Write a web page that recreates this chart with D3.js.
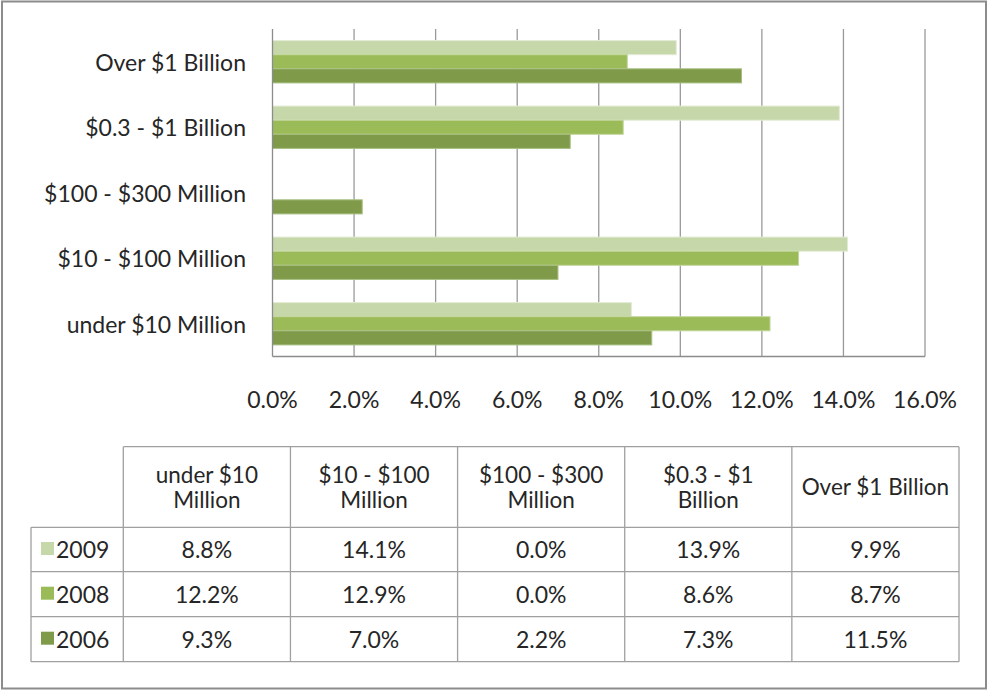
<!DOCTYPE html>
<html>
<head>
<meta charset="utf-8">
<script src="https://cdn.jsdelivr.net/npm/d3@7"></script>
<style>
  body { margin: 0; background: #fff; }
  text { font-family: Lato, "Open Sans", sans-serif; fill: #262626; }
</style>
</head>
<body>
<svg id="chart" width="988" height="691"></svg>
<script>
// categories as they appear in the table (left to right)
var categories = ["under $10 Million", "$10 - $100 Million", "$100 - $300 Million", "$0.3 - $1 Billion", "Over $1 Billion"];
// header text in the table, split into lines
var headerLines = [["under $10", "Million"], ["$10 - $100", "Million"], ["$100 - $300", "Million"], ["$0.3 - $1", "Billion"], ["Over $1 Billion"]];
var years = ["2009", "2008", "2006"];
var v2009 = [8.8, 14.1, 0.0, 13.9, 9.9];
var v2008 = [12.2, 12.9, 0.0, 8.6, 8.7];
var v2006 = [9.3, 7.0, 2.2, 7.3, 11.5];
var xTicks = [0, 2, 4, 6, 8, 10, 12, 14, 16];

var series = [v2009, v2008, v2006];
var colors = ["#c6d7aa", "#9bbb59", "#7f9b4a"];
var strokes = ["#e2ebd3", "#c3d79d", "#a8bf82"];
var fs = "23px";

var svg = d3.select("#chart");
var fmt = d3.format(".1f");

// outer frame
svg.append("rect")
  .attr("x", 2).attr("y", 1.5)
  .attr("width", 984).attr("height", 687)
  .attr("fill", "none").attr("stroke", "#8c8c8c").attr("stroke-width", 2);

// scales
var x = d3.scaleLinear().domain([0, 16]).range([272.5, 925]);
var y = d3.scaleBand()
  .domain(categories.slice().reverse())   // chart shows last category on top
  .range([29, 356.5]);
var ySub = d3.scaleBand()
  .domain(years)
  .range([0, y.bandwidth()])
  .paddingOuter(0.82);

// gridlines
svg.append("g").selectAll("line")
  .data(xTicks.slice(1))
  .enter().append("line")
    .attr("x1", d => x(d)).attr("x2", d => x(d))
    .attr("y1", 29).attr("y2", 356.5)
    .attr("stroke", "#9a9a9a").attr("stroke-width", 1.3);

// bars
var rows = [];
categories.forEach(function(c, i) {
  years.forEach(function(yr, j) {
    rows.push({cat: c, year: yr, value: series[j][i], s: j});
  });
});

svg.append("g").selectAll("rect")
  .data(rows.filter(d => d.value > 0))
  .enter().append("rect")
    .attr("x", x(0))
    .attr("y", d => y(d.cat) + ySub(d.year))
    .attr("width", d => x(d.value) - x(0))
    .attr("height", ySub.bandwidth())
    .attr("fill", d => colors[d.s])
    .attr("stroke", d => strokes[d.s])
    .attr("stroke-width", 1);

// axes lines
svg.append("line")
  .attr("x1", x(0)).attr("x2", x(0)).attr("y1", 29).attr("y2", 356.5)
  .attr("stroke", "#8c8c8c").attr("stroke-width", 1.3);
svg.append("line")
  .attr("x1", x(0)).attr("x2", x(16)).attr("y1", 356.5).attr("y2", 356.5)
  .attr("stroke", "#8c8c8c").attr("stroke-width", 1.3);

// category labels
svg.append("g").selectAll("text")
  .data(categories)
  .enter().append("text")
    .attr("x", 246)
    .attr("y", d => y(d) + y.bandwidth() / 2 + 9)
    .attr("text-anchor", "end")
    .style("font-size", fs)
    .text(d => d);

// tick labels
svg.append("g").selectAll("text")
  .data(xTicks)
  .enter().append("text")
    .attr("x", d => x(d))
    .attr("y", 408)
    .attr("text-anchor", "middle")
    .style("font-size", fs)
    .text(d => fmt(d) + "%");

// data table
var tx = d3.scaleBand().domain(categories).range([123.3, 959]);
var rowY = [446.7, 527.3, 571.7, 616.7, 661.7];
var tbl = svg.append("g");
var lineCol = "#a0a0a0";

// horizontal lines
tbl.append("line").attr("x1", 123.3).attr("x2", 959).attr("y1", rowY[0]).attr("y2", rowY[0])
  .attr("stroke", lineCol).attr("stroke-width", 1.3);
rowY.slice(1).forEach(function(yy) {
  tbl.append("line").attr("x1", 31).attr("x2", 959).attr("y1", yy).attr("y2", yy)
    .attr("stroke", lineCol).attr("stroke-width", 1.3);
});
// vertical lines
tbl.append("line").attr("x1", 31).attr("x2", 31).attr("y1", rowY[1]).attr("y2", rowY[4])
  .attr("stroke", lineCol).attr("stroke-width", 1.3);
categories.forEach(function(c) {
  tbl.append("line").attr("x1", tx(c)).attr("x2", tx(c)).attr("y1", rowY[0]).attr("y2", rowY[4])
    .attr("stroke", lineCol).attr("stroke-width", 1.3);
});
tbl.append("line").attr("x1", 959).attr("x2", 959).attr("y1", rowY[0]).attr("y2", rowY[4])
  .attr("stroke", lineCol).attr("stroke-width", 1.3);

// header text (one text element per line)
categories.forEach(function(c, i) {
  var lines = headerLines[i];
  var cy = (rowY[0] + rowY[1]) / 2;
  lines.forEach(function(l, k) {
    tbl.append("text")
      .attr("x", tx(c) + tx.bandwidth() / 2)
      .attr("y", cy + 8 + (k - (lines.length - 1) / 2) * 25)
      .attr("text-anchor", "middle")
      .style("font-size", "22.5px")
      .text(l);
  });
});

// body rows
years.forEach(function(yr, j) {
  var top = rowY[j + 1], bot = rowY[j + 2];
  var mid = (top + bot) / 2;
  tbl.append("rect")
    .attr("x", 41).attr("y", mid - 7.5)
    .attr("width", 13).attr("height", 13)
    .attr("fill", colors[j]);
  tbl.append("text")
    .attr("x", 56).attr("y", mid + 8.5)
    .style("font-size", fs)
    .text(yr);
  categories.forEach(function(c, i) {
    tbl.append("text")
      .attr("x", tx(c) + tx.bandwidth() / 2)
      .attr("y", mid + 8.5)
      .attr("text-anchor", "middle")
      .style("font-size", fs)
      .text(fmt(series[j][i]) + "%");
  });
});
</script>
</body>
</html>
